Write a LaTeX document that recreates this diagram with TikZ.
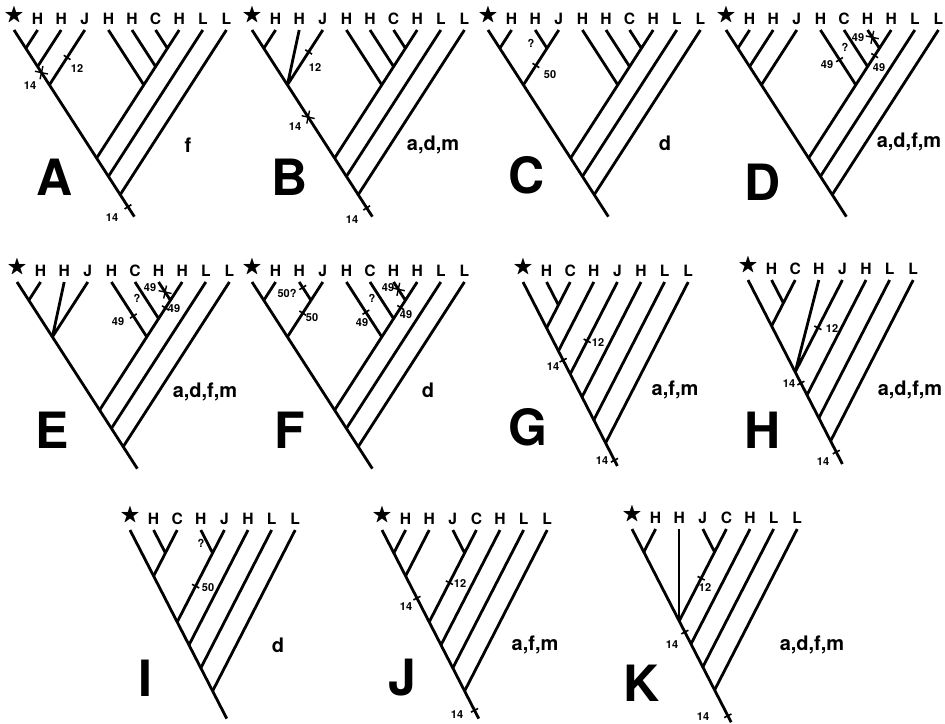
\documentclass[tikz,border=0pt]{standalone}
\usepackage{fontspec}
\setmainfont{TeX Gyre Heros}
\usepackage{amssymb}
\usetikzlibrary{shapes.misc}
\newcommand\str{\scalebox{1.3}{$\bigstar$}}
\begin{document}
\begin{tikzpicture}[x=0.5pt, y=-0.5pt, line width=1.4pt, line join=round, font=\bfseries]
	\tikzset{wide/.style={x={(5.9pt,9.15pt)}, y={(5.9pt,-9.15pt)}},
	narrow/.style={x={(5.9pt,11.5pt)}, y={(5.9pt,-11.5pt)}},
	tip/.style={anchor=south, yshift=2pt, inner sep=0pt, font=\fontsize{7.8}{8}\bfseries},
	tick/.style={sloped, fill, inner sep=0pt, minimum width=0.8pt, minimum height=4pt},
	xmark/.style={sloped, cross out, draw, inner sep=0pt, minimum size=4pt, line width=0.7pt},
	num/.style={font=\fontsize{5.5}{6}\bfseries, inner sep=0pt},
	chars/.style={font=\fontsize{10}{12}\bfseries, inner sep=0pt},
	panel/.style={font=\fontsize{25}{28}\bfseries, inner sep=0pt}}
	\useasboundingbox (0,0) rectangle (945,723);
	% A
	\begin{scope}[shift={(14,30)}, wide]
		\foreach \t [count=\i from 0] in {\str,H,H,J,H,H,C,H,L,L}
			\path (\i,\i) coordinate (A\i) node[tip] (tA\i) {\t};
		\path (0,1) coordinate (A01) (0,2) coordinate (A02) (0,3) coordinate (A03)
			(6,7) coordinate (A67) (5,7) coordinate (A57) (4,7) coordinate (A47)
			(0,7) coordinate (A07) (0,8) coordinate (A08) (0,9) coordinate (A09) (0,10.2) coordinate (Ar);
		\draw (A0) -- (A01) -- (A02) -- node[xmark, pos=.33] (Am1) {} (A03) -- (A07) -- (A08) -- (A09) -- node[tick, pos=.55] (Am2) {} (Ar);
		\draw (A1) -- (A01) (A2) -- (A02) (A3) -- node[tick, pos=.5] (Am3) {} (A03)
			(A4) -- (A47) (A5) -- (A57) (A6) -- (A67) (A7) -- (A67) -- (A57) -- (A47) -- (A07)
			(A8) -- (A08) (A9) -- (A09);
	\end{scope}
	\node[num] (A14a) at (30,86) {14};
	\node[num] (A14b) at (112,218) {14};
	\node[num] (A12) at (77,69) {12};
	\node[chars] (Af) at (188,145) {f};
	\node[panel] (Al) at (55,177) {A};
	% B
	\begin{scope}[shift={(252,30)}, wide]
		\foreach \t [count=\i from 0] in {\str,H,H,J,H,H,C,H,L,L}
			\path (\i,\i) coordinate (B\i) node[tip] (tB\i) {\t};
		\path (0,1) coordinate (B01) (0,3) coordinate (B03)
			(6,7) coordinate (B67) (5,7) coordinate (B57) (4,7) coordinate (B47)
			(0,7) coordinate (B07) (0,8) coordinate (B08) (0,9) coordinate (B09) (0,10.2) coordinate (Br);
		\draw (B0) -- (B01) -- (B03) -- node[xmark, pos=.44] (Bm1) {} (B07) -- (B08) -- (B09) -- node[tick, pos=.6] (Bm2) {} (Br);
		\draw (B1) -- (B01) (B2) -- (B03) (B3) -- node[tick, pos=.4] (Bm3) {} (B03)
			(B4) -- (B47) (B5) -- (B57) (B6) -- (B67) (B7) -- (B67) -- (B57) -- (B47) -- (B07)
			(B8) -- (B08) (B9) -- (B09);
	\end{scope}
	\node[num] (B14a) at (295,127) {14};
	\node[num] (B14b) at (352,220) {14};
	\node[num] (B12) at (315,68) {12};
	\node[chars] (Bf) at (433,145) {a,d,m};
	\node[panel] (Bl) at (290,177) {B};
	% C
	\begin{scope}[shift={(488,30)}, wide]
		\foreach \t [count=\i from 0] in {\str,H,H,J,H,H,C,H,L,L}
			\path (\i,\i) coordinate (C\i) node[tip] (tC\i) {\t};
		\path (0,1) coordinate (C01) (2,3) coordinate (C23) (0,3) coordinate (C03)
			(6,7) coordinate (C67) (5,7) coordinate (C57) (4,7) coordinate (C47)
			(0,7) coordinate (C07) (0,8) coordinate (C08) (0,9) coordinate (C09) (0,10.2) coordinate (Cr);
		\draw (C0) -- (C01) -- (C03) -- (C07) -- (C08) -- (C09) -- (Cr);
		\draw (C1) -- (C01) (C2) -- (C23) (C3) -- (C23) -- node[tick, pos=.47] (Cm1) {} (C03)
			(C4) -- (C47) (C5) -- (C57) (C6) -- (C67) (C7) -- (C67) -- (C57) -- (C47) -- (C07)
			(C8) -- (C08) (C9) -- (C09);
	\end{scope}
	\node[num] (Cq) at (531,43) {?};
	\node[num] (C50) at (550,75) {50};
	\node[chars] (Cf) at (665,143) {d};
	\node[panel] (Cl) at (527,175) {C};
	% D
	\begin{scope}[shift={(726,30)}, wide]
		\foreach \t [count=\i from 0] in {\str,H,H,J,H,C,H,H,L,L}
			\path (\i,\i) coordinate (D\i) node[tip] (tD\i) {\t};
		\path (0,1) coordinate (D01) (0,2) coordinate (D02) (0,3) coordinate (D03)
			(6,7) coordinate (D67) (5,7) coordinate (D57) (4,7) coordinate (D47)
			(0,7) coordinate (D07) (0,8) coordinate (D08) (0,9) coordinate (D09) (0,10.2) coordinate (Dr);
		\draw (D0) -- (D01) -- (D02) -- (D03) -- (D07) -- (D08) -- (D09) -- (Dr);
		\draw (D1) -- (D01) (D2) -- (D02) (D3) -- (D03)
			(D4) -- node[tick, pos=.54] (Dm1) {} (D47) (D5) -- (D57) (D6) -- node[xmark, pos=.4] (Dm2) {} (D67)
			(D7) -- (D67) -- node[tick, pos=.4] (Dm3) {} (D57) -- (D47) -- (D07)
			(D8) -- (D08) (D9) -- (D09);
	\end{scope}
	\node[num] (Dq) at (845,47) {?};
	\node[num] (D49a) at (858,38) {49};
	\node[num] (D49b) at (827,65) {49};
	\node[num] (D49c) at (879,68) {49};
	\node[chars] (Df) at (909,142) {a,d,f,m};
	\node[panel] (Dl) at (763,182) {D};
	% E
	\begin{scope}[shift={(17,282)}, wide]
		\foreach \t [count=\i from 0] in {\str,H,H,J,H,C,H,H,L,L}
			\path (\i,\i) coordinate (E\i) node[tip] (tE\i) {\t};
		\path (0,1) coordinate (E01) (0,3) coordinate (E03)
			(6,7) coordinate (E67) (5,7) coordinate (E57) (4,7) coordinate (E47)
			(0,7) coordinate (E07) (0,8) coordinate (E08) (0,9) coordinate (E09) (0,10.2) coordinate (Er);
		\draw (E0) -- (E01) -- (E03) -- (E07) -- (E08) -- (E09) -- (Er);
		\draw (E1) -- (E01) (E2) -- (E03) (E3) -- (E03)
			(E4) -- node[tick, pos=.62] (Em1) {} (E47) (E5) -- (E57) (E6) -- node[xmark, pos=.55] (Em2) {} (E67)
			(E7) -- (E67) -- node[tick, pos=.42] (Em3) {} (E57) -- (E47) -- (E07)
			(E8) -- (E08) (E9) -- (E09);
	\end{scope}
	\node[num] (Eq) at (137,298) {?};
	\node[num] (E49a) at (150,288) {49};
	\node[num] (E49b) at (118,322) {49};
	\node[num] (E49c) at (174,309) {49};
	\node[chars] (Ef) at (205,392) {a,d,f,m};
	\node[panel] (El) at (52,430) {E};
	% F
	\begin{scope}[shift={(252,282)}, wide]
		\foreach \t [count=\i from 0] in {\str,H,H,J,H,C,H,H,L,L}
			\path (\i,\i) coordinate (F\i) node[tip] (tF\i) {\t};
		\path (0,1) coordinate (F01) (2,3) coordinate (F23) (0,3) coordinate (F03)
			(6,7) coordinate (F67) (5,7) coordinate (F57) (4,7) coordinate (F47)
			(0,7) coordinate (F07) (0,8) coordinate (F08) (0,9) coordinate (F09) (0,10.2) coordinate (Fr);
		\draw (F0) -- (F01) -- (F03) -- (F07) -- (F08) -- (F09) -- (Fr);
		\draw (F1) -- (F01) (F2) -- node[tick, pos=.3] (Fm0) {} (F23) (F3) -- (F23) -- node[tick, pos=.35] (Fm4) {} (F03)
			(F4) -- node[tick, pos=.55] (Fm1) {} (F47) (F5) -- (F57) (F6) -- node[xmark, pos=.4] (Fm2) {} (F67)
			(F7) -- (F67) -- node[tick, pos=.4] (Fm3) {} (F57) -- (F47) -- (F07)
			(F8) -- (F08) (F9) -- (F09);
	\end{scope}
	\node[num] (F50q) at (287,293) {50?};
	\node[num] (F50) at (312,318) {50};
	\node[num] (Fq) at (372,298) {?};
	\node[num] (F49a) at (388,288) {49};
	\node[num] (F49b) at (362,323) {49};
	\node[num] (F49c) at (406,315) {49};
	\node[chars] (Ff) at (428,390) {d};
	\node[panel] (Fl) at (290,430) {F};
	% G
	\begin{scope}[shift={(523,282)}, narrow]
		\foreach \t [count=\i from 0] in {\str,H,C,H,J,H,L,L}
			\path (\i,\i) coordinate (G\i) node[tip] (tG\i) {\t};
		\path (1,2) coordinate (G12) (0,2) coordinate (G02) (0,3) coordinate (G03) (0,4) coordinate (G04)
			(0,5) coordinate (G05) (0,6) coordinate (G06) (0,7) coordinate (G07) (0,8) coordinate (Gr);
		\draw (G0) -- (G02) -- (G03) -- node[tick, pos=.4] (Gm1) {} (G04) -- (G05) -- (G06) -- (G07) -- node[tick, pos=.75] (Gm2) {} (Gr);
		\draw (G1) -- (G12) (G2) -- (G12) -- (G02) (G3) -- (G03) (G4) -- node[tick, pos=.64] (Gm3) {} (G04)
			(G5) -- (G05) (G6) -- (G06) (G7) -- (G07);
	\end{scope}
	\node[num] (G12l) at (598,343) {12};
	\node[num] (G14a) at (553,367) {14};
	\node[num] (G14b) at (602,461) {14};
	\node[chars] (Gf) at (675,390) {a,f,m};
	\node[panel] (Gl) at (528,427) {G};
	% H
	\begin{scope}[shift={(748,280)}, narrow]
		\foreach \t [count=\i from 0] in {\str,H,C,H,J,H,L,L}
			\path (\i,\i) coordinate (H\i) node[tip] (tH\i) {\t};
		\path (1,2) coordinate (H12) (0,2) coordinate (H02) (0,4) coordinate (H04)
			(0,5) coordinate (H05) (0,6) coordinate (H06) (0,7) coordinate (H07) (0,8) coordinate (Hr);
		\draw (H0) -- (H02) -- (H04) -- node[tick, pos=.48] (Hm1) {} (H05) -- (H06) -- (H07) -- node[tick, pos=.48] (Hm2) {} (Hr);
		\draw (H1) -- (H12) (H2) -- (H12) -- (H02) (H3) -- (H04) (H4) -- node[tick, pos=.52] (Hm3) {} (H04)
			(H5) -- (H05) (H6) -- (H06) (H7) -- (H07);
	\end{scope}
	\node[num] (H12l) at (832,329) {12};
	\node[num] (H14a) at (789,384) {14};
	\node[num] (H14b) at (823,462) {14};
	\node[chars] (Hf) at (910,390) {a,d,f,m};
	\node[panel] (Hl) at (763,430) {H};
	% I
	\begin{scope}[shift={(130,530)}, narrow]
		\foreach \t [count=\i from 0] in {\str,H,C,H,J,H,L,L}
			\path (\i,\i) coordinate (I\i) node[tip] (tI\i) {\t};
		\path (1,2) coordinate (I12) (0,2) coordinate (I02) (3,4) coordinate (I34) (0,4) coordinate (I04)
			(0,5) coordinate (I05) (0,6) coordinate (I06) (0,7) coordinate (I07) (0,8.2) coordinate (Ir);
		\draw (I0) -- (I02) -- (I04) -- (I05) -- (I06) -- (I07) -- (Ir);
		\draw (I1) -- (I12) (I2) -- (I12) -- (I02) (I3) -- (I34) (I4) -- (I34) -- node[tick, pos=.48] (Im1) {} (I04)
			(I5) -- (I05) (I6) -- (I06) (I7) -- (I07);
	\end{scope}
	\node[num] (Iq) at (201,543) {?};
	\node[num] (I50) at (208,588) {50};
	\node[chars] (If) at (278,645) {d};
	\node[panel] (Il) at (145,678) {I};
	% J
	\begin{scope}[shift={(382,530)}, narrow]
		\foreach \t [count=\i from 0] in {\str,H,H,J,C,H,L,L}
			\path (\i,\i) coordinate (J\i) node[tip] (tJ\i) {\t};
		\path (0,1) coordinate (J01) (0,2) coordinate (J02) (3,4) coordinate (J34) (0,4) coordinate (J04)
			(0,5) coordinate (J05) (0,6) coordinate (J06) (0,7) coordinate (J07) (0,8.2) coordinate (Jr);
		\draw (J0) -- (J01) -- (J02) -- node[tick, pos=.48] (Jm1) {} (J04) -- (J05) -- (J06) -- (J07) -- node[tick, pos=.7] (Jm2) {} (Jr);
		\draw (J1) -- (J01) (J2) -- (J02) (J3) -- (J34) (J4) -- (J34) -- node[tick, pos=.43] (Jm3) {} (J04)
			(J5) -- (J05) (J6) -- (J06) (J7) -- (J07);
	\end{scope}
	\node[num] (J12l) at (460,584) {12};
	\node[num] (J14a) at (406,607) {14};
	\node[num] (J14b) at (457,715) {14};
	\node[chars] (Jf) at (535,645) {a,f,m};
	\node[panel] (Jl) at (402,678) {J};
	% K
	\begin{scope}[shift={(632,529)}, narrow]
		\foreach \t [count=\i from 0] in {\str,H,H,J,C,H,L,L}
			\path (\i,\i) coordinate (K\i) node[tip] (tK\i) {\t};
		\path (0,1) coordinate (K01) (3,4) coordinate (K34) (0,4) coordinate (K04)
			(0,5) coordinate (K05) (0,6) coordinate (K06) (0,7) coordinate (K07) (0,8.4) coordinate (Kr);
		\draw (K0) -- (K01) -- (K04) -- node[tick, pos=.48] (Km1) {} (K05) -- (K06) -- (K07) -- node[tick, pos=.8] (Km2) {} (Kr);
		\draw (K1) -- (K01) (K3) -- (K34) (K4) -- (K34) -- node[tick, pos=.38] (Km3) {} (K04)
			(K5) -- (K05) (K6) -- (K06) (K7) -- (K07);
		\draw[line width=0.8pt] (K2) -- (K04);
	\end{scope}
	\node[num] (K12l) at (705,588) {12};
	\node[num] (K14a) at (672,645) {14};
	\node[num] (K14b) at (703,717) {14};
	\node[chars] (Kf) at (812,645) {a,d,f,m};
	\node[panel] (Kl) at (642,683) {K};
\end{tikzpicture}
\end{document}
